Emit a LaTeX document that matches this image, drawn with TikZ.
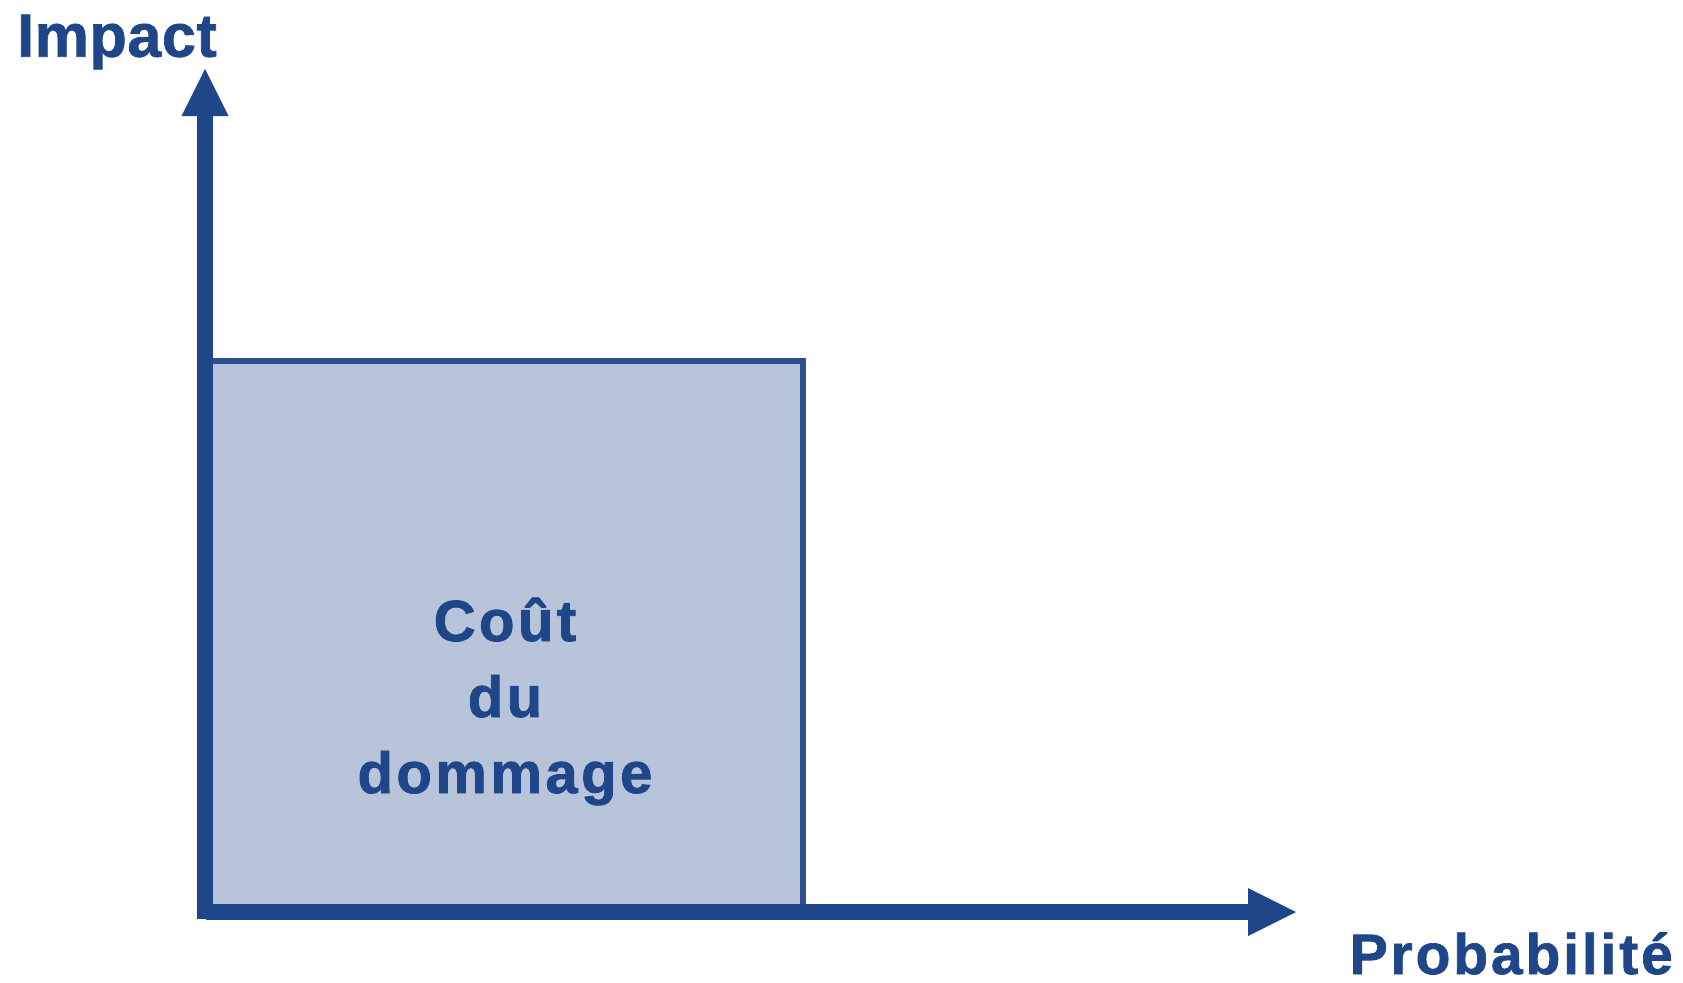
\documentclass[tikz,border=0pt]{standalone}
\usepackage{fontspec}
\setmainfont{Liberation Sans}
\newfontfamily\axisfont[LetterSpace=1,FakeBold=1.2]{Liberation Sans}
\newfontfamily\probfont[LetterSpace=5,FakeBold=1.2]{Liberation Sans}
\newfontfamily\boxfont[LetterSpace=6,FakeBold=1.4]{Liberation Sans}
\definecolor{axisblue}{HTML}{1F4689}
\definecolor{edgeblue}{HTML}{2D4F8F}
\definecolor{areafill}{HTML}{B7C4DA}
\definecolor{textblue}{HTML}{1E4688}
\begin{document}
\begin{tikzpicture}[x=1pt,y=-1pt,
  labeltext/.style={inner sep=0pt,text=textblue,font=\bfseries},
  areatext/.style={labeltext,anchor=base,font=\boxfont\bfseries\fontsize{58}{60}\selectfont}]
\useasboundingbox (0,0) rectangle (1683,982);
% axis geometry
\coordinate (O) at (205,912);
\coordinate (ytip) at (205,69);
\coordinate (xtip) at (1296,912);
% cost area
\filldraw[fill=areafill,draw=edgeblue,line width=6pt] (205,361) rectangle (803,912);
% vertical axis
\fill[axisblue] (197,919) rectangle (213,112);
\fill[axisblue] (181.5,116) -- (ytip) -- (228.5,116) -- cycle;
% horizontal axis
\fill[axisblue] (206,904) rectangle (1250,920);
\fill[axisblue] (1248,888) -- (xtip) -- (1248,936) -- cycle;
% labels
\node[labeltext,anchor=base west,font=\axisfont\bfseries\fontsize{61}{64}\selectfont] (impact) at (17,56.7) {Impact};
\node[labeltext,anchor=base east,font=\probfont\bfseries\fontsize{57}{60}\selectfont] (prob) at (1673,974) {Probabilité};
\node[areatext] (c1) at (505,641) {Coût};
\node[areatext] (c2) at (505,717) {du};
\node[areatext] (c3) at (505,793) {dommage};
\end{tikzpicture}
\end{document}
